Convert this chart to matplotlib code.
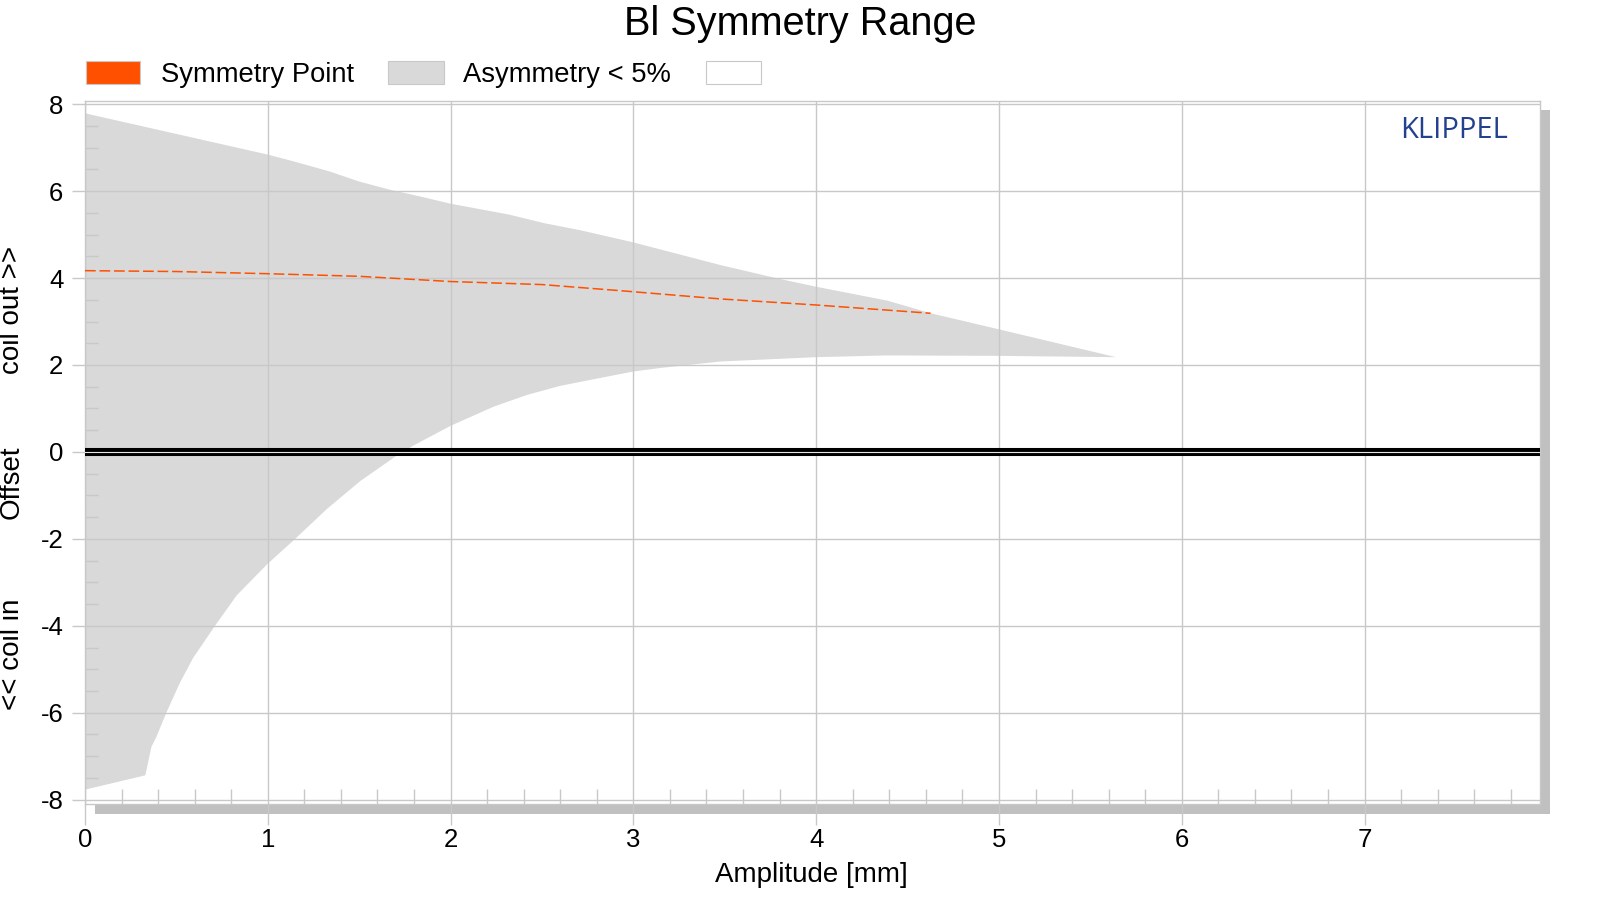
import matplotlib
matplotlib.use("Agg")
import matplotlib.pyplot as plt
from matplotlib.patches import Rectangle
import numpy as np

plt.rcParams['font.family'] = ['Liberation Sans', 'DejaVu Sans']

# ---- data ----
upper_x = [0, 1.0, 1.145, 1.34, 1.50, 1.67, 1.83, 2.0, 2.32, 2.515, 2.71, 3.0,
           3.475, 3.8, 4.0, 4.39, 4.626, 5.0, 5.3, 5.64]
upper_y = [7.79, 6.84, 6.68, 6.45, 6.22, 6.03, 5.88, 5.71, 5.46, 5.26, 5.10, 4.82,
           4.30, 3.98, 3.80, 3.48, 3.19, 2.82, 2.52, 2.18]
lower_x = [0, 0.33, 0.363, 0.39, 0.445, 0.517, 0.59, 0.711, 0.83, 1.0, 1.142,
           1.324, 1.506, 1.707, 1.798, 2.0, 2.235, 2.417, 2.60, 2.78, 3.0, 3.146,
           3.475, 4.0, 4.39, 5.0, 5.64]
lower_y = [-7.77, -7.44, -6.79, -6.56, -6.0, -5.33, -4.75, -4.0, -3.30, -2.57, -2.03,
           -1.31, -0.67, -0.08, 0.15, 0.60, 1.04, 1.31, 1.52, 1.67, 1.85, 1.93,
           2.08, 2.18, 2.22, 2.21, 2.18]
sym_x = [0, 0.5, 1.0, 1.5, 2.0, 2.5, 2.927, 3.475, 4.0, 4.626]
sym_y = [4.17, 4.15, 4.10, 4.04, 3.92, 3.85, 3.71, 3.52, 3.38, 3.19]

x_ticks = [0, 1, 2, 3, 4, 5, 6, 7]
y_ticks = [-8, -6, -4, -2, 0, 2, 4, 6, 8]

title = "Bl Symmetry Range"
legend_labels = ["Symmetry Point", "Asymmetry < 5%"]

ORANGE = "#ff5000"
FILL = "#d9d9d9"
GRID = "#c8c8c8"

W, H = 1600, 900
fig = plt.figure(figsize=(16, 9), dpi=100)

def fx(px):
    return px / W

def fy(py):
    return 1 - py / H

# axes
left, right, top, bottom = 85, 1540, 100.7, 804
ax = fig.add_axes([fx(left), fy(bottom), fx(right - left), (bottom - top) / H])
ax.set_zorder(2)
ax.set_facecolor("white")

# shadow
fig.patches.append(Rectangle((fx(95), fy(814)), fx(1550 - 95), (814 - 110) / H,
                             transform=fig.transFigure, facecolor="#c0c0c0",
                             edgecolor="none", zorder=0))

poly_x = np.concatenate([upper_x, lower_x[::-1]])
poly_y = np.concatenate([upper_y, lower_y[::-1]])
ax.fill(poly_x, poly_y, color=FILL, lw=0, zorder=1)

ax.set_xlim(0, 7.96)
ax.set_ylim(-8.1, 8.08)
ax.set_xticks(x_ticks)
ax.set_yticks(y_ticks)
ax.set_xticks(np.arange(0, 7.96, 0.2), minor=True)
ax.set_yticks(np.arange(-8, 8.01, 0.5), minor=True)
ax.set_xticklabels([str(v) for v in x_ticks])
ax.set_yticklabels([str(v) for v in y_ticks])
ax.grid(True, which="major", color=GRID, lw=1.0, zorder=2)
ax.set_axisbelow(False)
for gl in ax.get_xgridlines() + ax.get_ygridlines():
    gl.set_zorder(2)

ax.tick_params(axis="x", which="major", direction="out", length=15, width=1.0,
               color=GRID, labelsize=18.5, pad=2)
ax.tick_params(axis="y", which="major", direction="out", length=9.5, width=1.0,
               color=GRID, labelsize=18.5, pad=6)
ax.tick_params(axis="x", which="minor", direction="in", length=11, width=1.0, color=GRID)
ax.tick_params(axis="y", which="minor", direction="in", length=9.5, width=1.0, color=GRID)
for s in ax.spines.values():
    s.set_color(GRID)
    s.set_linewidth(1.0)

# zero line
ax.axhline(0, color="black", lw=5.8, zorder=3)
ax.axhline(0, color="#e8e8e8", lw=0.8, zorder=3.5)

# symmetry point line
ax.plot(sym_x, sym_y, color=ORANGE, lw=1.1, ls=(0, (7, 2.5)), zorder=4)

# KLIPPEL
fig.text(fx(1508), fy(131), "KLIPPEL", color="#23418f", fontsize=21,
         ha="right", va="center", family=["Open Sans", "DejaVu Sans"])

# title
fig.text(fx(800), fy(24), title, fontsize=28.5, ha="center", va="center")

# legend
fig.patches.append(Rectangle((fx(85.7), fy(84.3)), fx(140.3 - 85.7), (84.3 - 60.7) / H,
                             transform=fig.transFigure, facecolor=ORANGE,
                             edgecolor=GRID, lw=0.8))
fig.text(fx(160.7), fy(75), legend_labels[0], fontsize=19.7, ha="left", va="center")
fig.patches.append(Rectangle((fx(387.8), fy(84.3)), fx(443.9 - 387.8), (84.3 - 60.7) / H,
                             transform=fig.transFigure, facecolor=FILL,
                             edgecolor=GRID, lw=0.8))
fig.text(fx(462.8), fy(75), legend_labels[1], fontsize=19.7, ha="left", va="center")
fig.patches.append(Rectangle((fx(705.6), fy(84.3)), fx(760.7 - 705.6), (84.3 - 60.7) / H,
                             transform=fig.transFigure, facecolor="white",
                             edgecolor=GRID, lw=0.8))

# axis labels
fig.text(fx(811), fy(875), "Amplitude [mm]", fontsize=20, ha="center", va="center")
fig.text(fx(12), fy(310), "coil out >>", fontsize=20, rotation=90, ha="center", va="center")
fig.text(fx(12), fy(482), "Offset", fontsize=20, rotation=90, ha="center", va="center")
fig.text(fx(12), fy(654), "<< coil in", fontsize=20, rotation=90, ha="center", va="center")

fig.savefig("out.png", dpi=100, facecolor="white")
